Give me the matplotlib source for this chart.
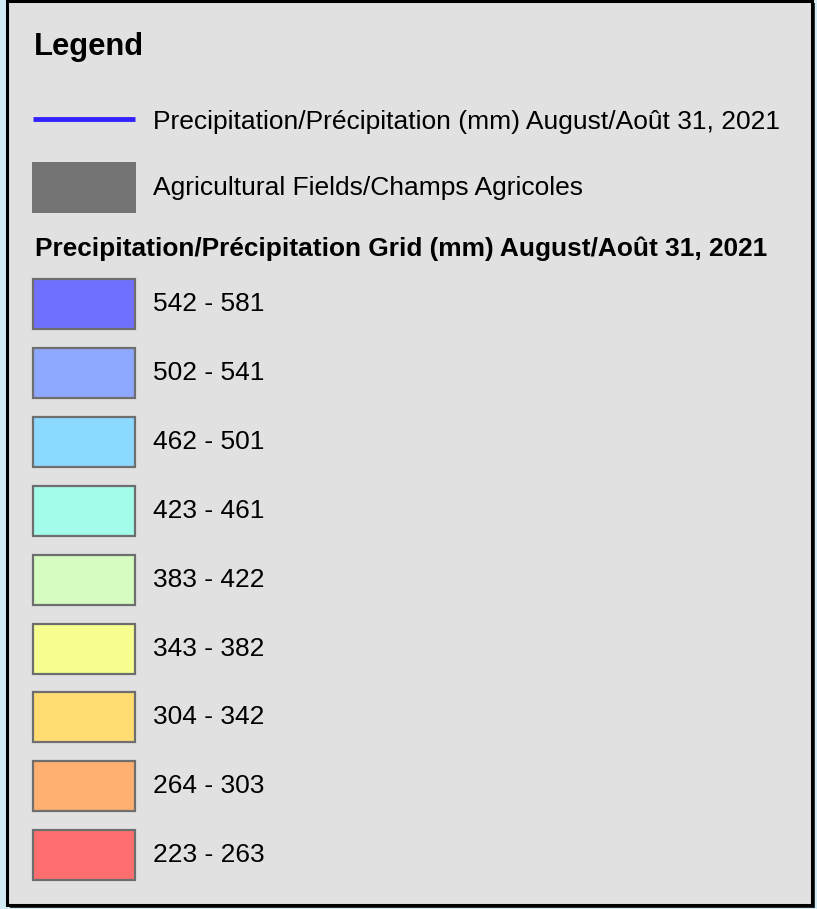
import matplotlib
matplotlib.use("Agg")
import matplotlib.pyplot as plt
from matplotlib.patches import Rectangle

plt.rcParams['font.family'] = ['Liberation Sans', 'DejaVu Sans']

# legend content
line_label = "Precipitation/Précipitation (mm) August/Août 31, 2021"
field_label = "Agricultural Fields/Champs Agricoles"
grid_title = "Precipitation/Précipitation Grid (mm) August/Août 31, 2021"
class_labels = ["542 - 581", "502 - 541", "462 - 501", "423 - 461", "383 - 422",
                "343 - 382", "304 - 342", "264 - 303", "223 - 263"]
class_colors = ["#7070ff", "#8fa8ff", "#8cd9ff", "#a3fbea", "#d6fcc0",
                "#f6ff90", "#ffdd73", "#ffb070", "#ff6f6f"]
line_color = "#3322ff"
field_color = "#737373"

W, H = 817, 909
fig = plt.figure(figsize=(W / 100, H / 100), dpi=100, facecolor="#d2eaf3")
ax = fig.add_axes([0, 0, 1, 1])
ax.set_xlim(0, W)
ax.set_ylim(H, 0)
ax.axis("off")

# panel with a slight shadow
ax.add_patch(Rectangle((10, 3), 805, 905, facecolor="#333333", edgecolor="none"))
ax.add_patch(Rectangle((7.5, 1), 805, 904, facecolor="#e1e1e1",
                       edgecolor="black", linewidth=2.2))

ax.text(34, 47, "Legend", fontsize=22.3, fontweight="bold", va="center", ha="left")

# line entry
ax.plot([33, 135], [119, 119], color=line_color, linewidth=3.5, solid_capstyle="butt")
ax.text(153, 122, line_label, fontsize=19, va="center", ha="left")

# agricultural fields
ax.add_patch(Rectangle((32, 162), 104, 51, facecolor=field_color, edgecolor="none"))
ax.text(153, 188, field_label, fontsize=19, va="center", ha="left")

ax.text(35, 249, grid_title, fontsize=18.9, fontweight="bold", va="center", ha="left")

# grid classes
y0, step = 279, 68.9
for i, (lab, col) in enumerate(zip(class_labels, class_colors)):
    y = y0 + i * step
    ax.add_patch(Rectangle((33, y), 102, 50, facecolor=col,
                           edgecolor="#6e6e6e", linewidth=1.6))
    ax.text(153, y + 25, lab, fontsize=19, va="center", ha="left")

fig.savefig("out.png", dpi=100, facecolor=fig.get_facecolor())
